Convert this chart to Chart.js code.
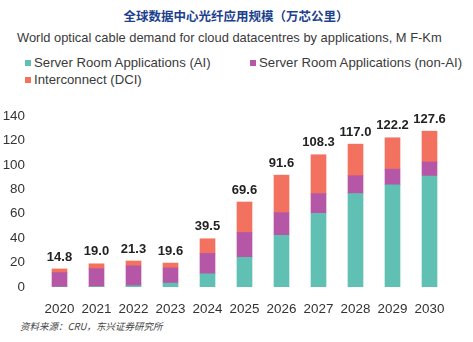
<!DOCTYPE html>
<html>
<head>
<meta charset="utf-8">
<script src="https://cdn.jsdelivr.net/npm/chart.js@4/dist/chart.umd.min.js"></script>
<style>
  html, body { margin: 0; padding: 0; background: #fff; }
  body { width: 473px; height: 342px; position: relative; overflow: hidden;
         font-family: "Liberation Sans", Arial, "Noto Sans CJK SC", sans-serif; color: #333; }
  .judul { position: absolute; top: 6px; left: 7px; width: 458px; text-align: center;
           font: bold 12.5px "Noto Sans CJK SC", sans-serif; color: #1c3f8e; }
  .sub { position: absolute; top: 30px; left: 17px; font-size: 12.9px; color: #3a3a3a; white-space: nowrap; }
  .legenda span { position: absolute; font-size: 13.2px; color: #3a3a3a; white-space: nowrap; }
  .legenda i { display: inline-block; width: 6px; height: 6px; margin-right: 3px; vertical-align: 1px; }
  .sumber { position: absolute; top: 319px; left: 20px; font: italic 9.5px "Noto Sans CJK SC", sans-serif; color: #444; }
  #wadah { position: absolute; left: 0; top: 100px; width: 473px; height: 215px; }
</style>
</head>
<body>
<div class="judul">全球数据中心光纤应用规模（万芯公里）</div>
<div class="sub">World optical cable demand for cloud datacentres by applications, M F-Km</div>
<div class="legenda" id="legenda"></div>
<div class="sumber">资料来源：CRU，东兴证券研究所</div>
<div id="wadah"><canvas id="grafik"></canvas></div>

<script>
// data per tahun
const tahun = ['2020', '2021', '2022', '2023', '2024', '2025', '2026', '2027', '2028', '2029', '2030'];
const aiValues = [0, 0.3, 1.0, 3.2, 10.8, 24.3, 42.3, 60.4, 76.5, 83.6, 90.9];
const nonAiValues = [11.8, 14.7, 16.3, 12.4, 16.7, 20.4, 18.6, 16.1, 14.6, 12.9, 11.5];
const dciValues = [3.0, 4.0, 4.0, 4.0, 12.0, 24.9, 30.7, 31.8, 25.9, 25.7, 25.2];
const totalLabels = ['14.8', '19.0', '21.3', '19.6', '39.5', '69.6', '91.6', '108.3', '117.0', '122.2', '127.6'];
const yTicks = [0, 20, 40, 60, 80, 100, 120, 140];

const seri = [
    { label: 'Server Room Applications (AI)', data: aiValues, color: '#5fc0b3' },
    { label: 'Server Room Applications (non-AI)', data: nonAiValues, color: '#b556a6' },
    { label: 'Interconnect (DCI)', data: dciValues, color: '#f2715f' }
];

// legenda manual
const posLegenda = [[25, 55], [250, 55], [25, 72]];
const legenda = document.getElementById('legenda');
seri.forEach((s, i) => {
    const el = document.createElement('span');
    el.style.left = posLegenda[i][0] + 'px';
    el.style.top = posLegenda[i][1] + 'px';
    el.innerHTML = '<i style="background:' + s.color + '"></i>' + s.label;
    legenda.appendChild(el);
});

// label total di atas batang
const labelTotal = {
    id: 'labelTotal',
    afterDatasetsDraw(chart) {
        const ctx = chart.ctx;
        const meta = chart.getDatasetMeta(chart.data.datasets.length - 1);
        ctx.save();
        ctx.font = 'bold 13px "Liberation Sans", Arial, sans-serif';
        ctx.fillStyle = '#222';
        ctx.textAlign = 'center';
        ctx.textBaseline = 'middle';
        meta.data.forEach((bar, i) => {
            ctx.fillText(totalLabels[i], bar.x, bar.y - 12);
        });
        ctx.restore();
    }
};

new Chart(document.getElementById('grafik').getContext('2d'), {
    type: 'bar',
    data: {
        labels: tahun,
        datasets: seri.map(s => ({
            label: s.label,
            data: s.data,
            backgroundColor: s.color,
            barThickness: 15
        }))
    },
    options: {
        responsive: true,
        maintainAspectRatio: false,
        animation: false,
        layout: { padding: { top: 14, right: 25, left: 0, bottom: 0 } },
        plugins: { legend: { display: false }, tooltip: { enabled: false } },
        scales: {
            x: {
                stacked: true,
                grid: { display: false },
                border: { display: false },
                ticks: { color: '#333', padding: 6, font: { size: 13.4, family: '"Liberation Sans", Arial, sans-serif' } },
                afterFit(scale) { scale.height = 28; }
            },
            y: {
                stacked: true,
                min: 0,
                max: 140,
                grid: { display: false },
                border: { display: false },
                afterBuildTicks(scale) { scale.ticks = yTicks.map(v => ({ value: v })); },
                ticks: { color: '#333', padding: 8, font: { size: 13.4, family: '"Liberation Sans", Arial, sans-serif' } },
                afterFit(scale) { scale.width = 41; }
            }
        }
    },
    plugins: [labelTotal]
});
</script>
</body>
</html>
